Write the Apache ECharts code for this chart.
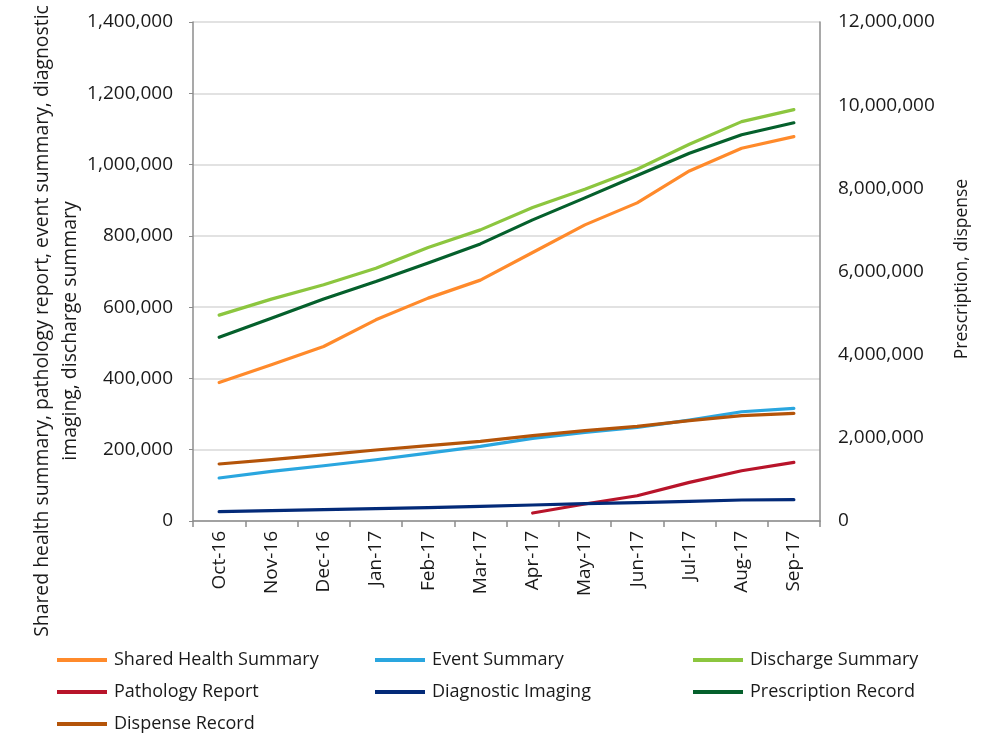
<!DOCTYPE html>
<html>
<head>
<meta charset="utf-8">
<script src="https://cdn.jsdelivr.net/npm/echarts@6/dist/echarts.min.js"></script>
<style>
  html, body { margin: 0; padding: 0; background: #fff; }
  #chart { width: 1005px; height: 734px; }
</style>
</head>
<body>
<div id="chart"></div>
<script>
// Monthly record counts, Oct 2016 - Sep 2017
const months = ['Oct-16', 'Nov-16', 'Dec-16', 'Jan-17', 'Feb-17', 'Mar-17',
                'Apr-17', 'May-17', 'Jun-17', 'Jul-17', 'Aug-17', 'Sep-17'];

// Left axis series
const sharedHealthSummary = [388600, 438300, 489600, 564400, 625300, 675800,
                             753200, 830800, 892500, 982200, 1045900, 1078400];
const eventSummary = [120600, 139200, 155100, 171900, 190600, 209300,
                      231700, 248500, 262500, 283200, 306500, 315800];
const dischargeSummary = [577600, 622500, 662600, 709400, 767200, 816800,
                          879400, 930900, 987000, 1057100, 1120500, 1154100];
const pathologyReport = [null, null, null, null, null, null,
                         22400, 47700, 70900, 108300, 141000, 164300];
const diagnosticImaging = [26100, 28900, 31700, 34500, 37300, 40900,
                           44900, 48500, 51300, 55000, 58900, 59700];

// Right axis series
const prescriptionRecord = [4417000, 4874000, 5341000, 5757000, 6207000, 6664000,
                            7242000, 7771000, 8308000, 8845000, 9287000, 9576000];
const dispenseRecord = [1371000, 1475000, 1588000, 1708000, 1812000, 1915000,
                        2052000, 2173000, 2276000, 2413000, 2534000, 2589000];

const leftTitleLines = ['Shared health summary, pathology report, event summary, diagnostic',
                        'imaging, discharge summary'];
const rightTitle = 'Prescription, dispense';

const FONT = "'Open Sans', 'Noto Sans', sans-serif";
const TXT = '#1a1a1a';

const colors = {
  'Shared Health Summary': '#FF8A2B',
  'Event Summary': '#2AA6DF',
  'Discharge Summary': '#8CC63F',
  'Pathology Report': '#B8142A',
  'Diagnostic Imaging': '#032A78',
  'Prescription Record': '#05602C',
  'Dispense Record': '#B45409'
};

const fmt = v => v.toLocaleString('en-US');

function line(name, data, axis) {
  return {
    name: name,
    type: 'line',
    yAxisIndex: axis,
    data: data,
    symbol: 'none',
    connectNulls: false,
    lineStyle: { width: 3.2, color: colors[name], cap: 'round', join: 'round' },
    itemStyle: { color: colors[name] },
    emphasis: { disabled: true },
    animation: false
  };
}

function legendCol(left, names) {
  return {
    orient: 'vertical',
    left: left,
    top: 649,
    height: 90,
    padding: 0,
    itemWidth: 50,
    itemHeight: 4,
    itemGap: 10,
    icon: 'rect',
    selectedMode: false,
    data: names,
    textStyle: { fontFamily: FONT, fontSize: 18, lineHeight: 22, color: TXT, padding: [0, 0, 0, 2] }
  };
}

function vText(x, y, text, size) {
  return {
    type: 'text',
    x: x, y: y,
    rotation: Math.PI / 2,
    style: {
      text: text,
      fontFamily: FONT,
      fontSize: size,
      fill: TXT,
      align: 'center',
      verticalAlign: 'middle'
    }
  };
}

const chart = echarts.init(document.getElementById('chart'), null, { renderer: 'canvas' });
chart.setOption({
  backgroundColor: '#fff',
  animation: false,
  grid: { left: 193, right: 185, top: 22, bottom: 213, containLabel: false },
  legend: [
    legendCol(57, ['Shared Health Summary', 'Pathology Report', 'Dispense Record']),
    legendCol(375, ['Event Summary', 'Diagnostic Imaging']),
    legendCol(693, ['Discharge Summary', 'Prescription Record'])
  ],
  graphic: [
    vText(42, 321, leftTitleLines[0], 19.4),
    vText(70, 331, leftTitleLines[1], 19.4),
    vText(962, 269, rightTitle, 17.5)
  ],
  xAxis: {
    type: 'category',
    data: months,
    boundaryGap: true,
    axisLine: { lineStyle: { color: '#8c8c8c', width: 1.5 } },
    axisTick: { show: true, length: 6, alignWithLabel: false, lineStyle: { color: '#8c8c8c', width: 1.5 } },
    axisLabel: {
      rotate: 90, margin: 10, fontFamily: FONT, fontSize: 19, color: TXT, interval: 0
    }
  },
  yAxis: [
    {
      type: 'value',
      min: 0, max: 1400000, interval: 200000,
      position: 'left',
      axisLine: { show: true, lineStyle: { color: '#8c8c8c', width: 1.5 } },
      axisTick: { show: true, length: 4, lineStyle: { color: '#8c8c8c' } },
      axisLabel: { formatter: fmt, fontFamily: FONT, fontSize: 19, color: TXT, margin: 20 },
      splitLine: { show: true, lineStyle: { color: '#d9d9d9', width: 1.5 } }
    },
    {
      type: 'value',
      min: 0, max: 12000000, interval: 2000000,
      position: 'right',
      axisLine: { show: true, lineStyle: { color: '#8c8c8c', width: 1.5 } },
      axisTick: { show: false },
      axisLabel: { formatter: fmt, fontFamily: FONT, fontSize: 19, color: TXT, margin: 18 },
      splitLine: { show: false }
    }
  ],
  series: [
    line('Shared Health Summary', sharedHealthSummary, 0),
    line('Event Summary', eventSummary, 0),
    line('Discharge Summary', dischargeSummary, 0),
    line('Pathology Report', pathologyReport, 0),
    line('Diagnostic Imaging', diagnosticImaging, 0),
    line('Prescription Record', prescriptionRecord, 1),
    line('Dispense Record', dispenseRecord, 1)
  ]
});
</script>
</body>
</html>
